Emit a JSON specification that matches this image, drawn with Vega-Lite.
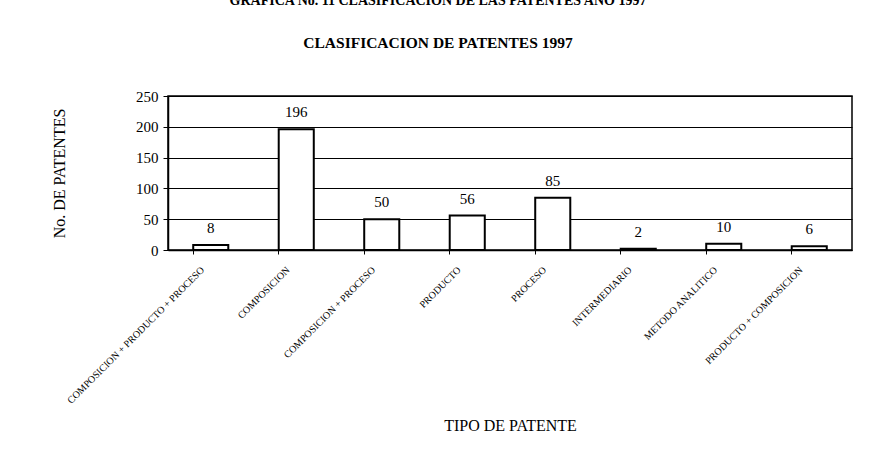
{
  "$schema": "https://vega.github.io/schema/vega-lite/v6.json",
  "autosize": "none",
  "width": 684,
  "height": 154,
  "padding": {"left": 168, "top": 96, "right": 18, "bottom": 208},
  "background": "white",
  "title": {
    "text": "GRAFICA No. 11 CLASIFICACION DE LAS PATENTES AÑO 1997",
    "subtitle": "CLASIFICACION DE PATENTES 1997",
    "anchor": "middle",
    "frame": "group",
    "dx": -72,
    "font": "Liberation Serif",
    "fontSize": 14,
    "fontWeight": "bold",
    "color": "black",
    "subtitleFont": "Liberation Serif",
    "subtitleFontSize": 15.5,
    "subtitleFontWeight": "bold",
    "subtitleColor": "black",
    "subtitlePadding": 28,
    "offset": 38
  },
  "data": {
    "values": [
      {"tipo": "COMPOSICION + PRODUCTO + PROCESO", "n": 8},
      {"tipo": "COMPOSICION", "n": 196},
      {"tipo": "COMPOSICION + PROCESO", "n": 50},
      {"tipo": "PRODUCTO", "n": 56},
      {"tipo": "PROCESO", "n": 85},
      {"tipo": "INTERMEDIARIO", "n": 2},
      {"tipo": "METODO ANALITICO", "n": 10},
      {"tipo": "PRODUCTO + COMPOSICION", "n": 6}
    ]
  },
  "encoding": {
    "x": {
      "field": "tipo",
      "type": "nominal",
      "sort": null,
      "scale": {"paddingInner": 0.59, "paddingOuter": 0.295},
      "axis": {
        "title": "TIPO DE PATENTE",
        "titleFont": "Liberation Serif",
        "titleFontSize": 16,
        "titleFontWeight": "normal",
        "titleColor": "black",
        "titlePadding": 12,
        "labelAngle": -45,
        "labelAlign": "right",
        "labelBaseline": "middle",
        "labelFont": "Liberation Serif",
        "labelFontSize": 10,
        "labelColor": "black",
        "labelPadding": 14,
        "labelOffset": -8,
        "bandPosition": 0,
        "tickSize": 4,
        "tickColor": "black",
        "domainColor": "black",
        "domainWidth": 1.5,
        "labelLimit": 300
      }
    },
    "y": {
      "field": "n",
      "type": "quantitative",
      "scale": {"domain": [0, 250]},
      "axis": {
        "title": "No. DE PATENTES",
        "titleFont": "Liberation Serif",
        "titleFontSize": 16,
        "titleFontWeight": "normal",
        "titleColor": "black",
        "titlePadding": 68,
        "values": [0, 50, 100, 150, 200, 250],
        "labelFont": "Liberation Serif",
        "labelFontSize": 15,
        "labelColor": "black",
        "labelPadding": 5,
        "tickSize": 5,
        "tickColor": "black",
        "domainColor": "black",
        "domainWidth": 1.5,
        "grid": true,
        "gridColor": "black",
        "gridWidth": 1
      }
    }
  },
  "layer": [
    {
      "mark": {"type": "bar", "fill": "white", "stroke": "black", "strokeWidth": 2}
    },
    {
      "mark": {"type": "text", "baseline": "bottom", "dy": -9, "font": "Liberation Serif", "fontSize": 15, "color": "black"},
      "encoding": {"text": {"field": "n", "type": "quantitative"}}
    }
  ],
  "config": {
    "view": {"stroke": "black", "strokeWidth": 1.5}
  }
}
